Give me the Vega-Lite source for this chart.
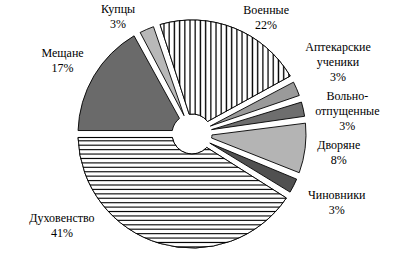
{
  "$schema": "https://vega.github.io/schema/vega-lite/v6.json",
  "autosize": "none",
  "width": 384,
  "height": 260,
  "padding": {"left": 0, "top": 4, "right": 16, "bottom": 0},
  "background": "white",
  "config": {"view": {"stroke": null}, "text": {"font": "'Liberation Serif', 'DejaVu Serif', serif", "fontSize": 12, "lineBreak": "\n", "lineHeight": 15, "align": "center", "baseline": "middle", "color": "black"}},
  "data": {"values": [
    {"category": "Военные", "label": "Военные\n22%", "value": 22, "order": 1},
    {"category": "Аптекарские ученики", "label": "Аптекарские\nученики\n3%", "value": 3, "order": 2},
    {"category": "Вольноотпущенные", "label": "Вольно-\nотпущенные\n3%", "value": 3, "order": 3},
    {"category": "Дворяне", "label": "Дворяне\n8%", "value": 8, "order": 4},
    {"category": "Чиновники", "label": "Чиновники\n3%", "value": 3, "order": 5},
    {"category": "Духовенство", "label": "Духовенство\n41%", "value": 41, "order": 6},
    {"category": "Мещане", "label": "Мещане\n17%", "value": 17, "order": 7},
    {"category": "Купцы", "label": "Купцы\n3%", "value": 3, "order": 8}
  ]},
  "transform": [
    {"stack": "value", "groupby": [], "sort": [{"field": "order", "order": "ascending"}], "as": ["v0", "v1"]}
  ],
  "layer": [
    {
      "mark": {"type": "arc", "outerRadius": 114, "innerRadius": 20, "padAngle": 0.06, "stroke": "black", "strokeWidth": 0.9},
      "encoding": {
        "theta": {"field": "v0", "type": "quantitative", "scale": {"type": "linear", "domain": [0, 100], "range": [-0.3142, 5.969]}},
        "theta2": {"field": "v1"},
        "fill": {"field": "category", "type": "nominal", "legend": null,
          "scale": {"domain": ["Военные", "Аптекарские ученики", "Вольноотпущенные", "Дворяне", "Чиновники", "Духовенство", "Мещане", "Купцы"],
                    "range": ["#d0d0d0", "#9a9a9a", "#6e6e6e", "#b4b4b4", "#505050", "#d0d0d0", "#6a6a6a", "#b8b8b8"]}}
      }
    },
    {
      "transform": [{"filter": "datum.category === 'Военные'"}],
      "mark": {"type": "arc", "outerRadius": 114, "innerRadius": 20, "padAngle": 0.06, "stroke": "black", "strokeWidth": 0.9,
        "fill": {"gradient": "linear", "x1": 0, "y1": 0, "x2": 1, "y2": 0, "stops": [
          {"offset": 0, "color": "#fff"}, {"offset": 0.02, "color": "#fff"}, {"offset": 0.03, "color": "#000"},
          {"offset": 0.04, "color": "#fff"}, {"offset": 0.06, "color": "#fff"}, {"offset": 0.07, "color": "#000"},
          {"offset": 0.08, "color": "#fff"}, {"offset": 0.10, "color": "#fff"}, {"offset": 0.11, "color": "#000"},
          {"offset": 0.12, "color": "#fff"}, {"offset": 0.14, "color": "#fff"}, {"offset": 0.15, "color": "#000"},
          {"offset": 0.16, "color": "#fff"}, {"offset": 0.18, "color": "#fff"}, {"offset": 0.19, "color": "#000"},
          {"offset": 0.20, "color": "#fff"}, {"offset": 0.22, "color": "#fff"}, {"offset": 0.23, "color": "#000"},
          {"offset": 0.24, "color": "#fff"}, {"offset": 0.26, "color": "#fff"}, {"offset": 0.27, "color": "#000"},
          {"offset": 0.28, "color": "#fff"}, {"offset": 0.30, "color": "#fff"}, {"offset": 0.31, "color": "#000"},
          {"offset": 0.32, "color": "#fff"}, {"offset": 0.34, "color": "#fff"}, {"offset": 0.35, "color": "#000"},
          {"offset": 0.36, "color": "#fff"}, {"offset": 0.38, "color": "#fff"}, {"offset": 0.39, "color": "#000"},
          {"offset": 0.40, "color": "#fff"}, {"offset": 0.42, "color": "#fff"}, {"offset": 0.43, "color": "#000"},
          {"offset": 0.44, "color": "#fff"}, {"offset": 0.46, "color": "#fff"}, {"offset": 0.47, "color": "#000"},
          {"offset": 0.48, "color": "#fff"}, {"offset": 0.50, "color": "#fff"}, {"offset": 0.51, "color": "#000"},
          {"offset": 0.52, "color": "#fff"}, {"offset": 0.54, "color": "#fff"}, {"offset": 0.55, "color": "#000"},
          {"offset": 0.56, "color": "#fff"}, {"offset": 0.58, "color": "#fff"}, {"offset": 0.59, "color": "#000"},
          {"offset": 0.60, "color": "#fff"}, {"offset": 0.62, "color": "#fff"}, {"offset": 0.63, "color": "#000"},
          {"offset": 0.64, "color": "#fff"}, {"offset": 0.66, "color": "#fff"}, {"offset": 0.67, "color": "#000"},
          {"offset": 0.68, "color": "#fff"}, {"offset": 0.70, "color": "#fff"}, {"offset": 0.71, "color": "#000"},
          {"offset": 0.72, "color": "#fff"}, {"offset": 0.74, "color": "#fff"}, {"offset": 0.75, "color": "#000"},
          {"offset": 0.76, "color": "#fff"}, {"offset": 0.78, "color": "#fff"}, {"offset": 0.79, "color": "#000"},
          {"offset": 0.80, "color": "#fff"}, {"offset": 0.82, "color": "#fff"}, {"offset": 0.83, "color": "#000"},
          {"offset": 0.84, "color": "#fff"}, {"offset": 0.86, "color": "#fff"}, {"offset": 0.87, "color": "#000"},
          {"offset": 0.88, "color": "#fff"}, {"offset": 0.90, "color": "#fff"}, {"offset": 0.91, "color": "#000"},
          {"offset": 0.92, "color": "#fff"}, {"offset": 0.94, "color": "#fff"}, {"offset": 0.95, "color": "#000"},
          {"offset": 0.96, "color": "#fff"}, {"offset": 0.98, "color": "#fff"}, {"offset": 0.99, "color": "#000"},
          {"offset": 1, "color": "#fff"}
        ]}},
      "encoding": {
        "theta": {"field": "v0", "type": "quantitative", "scale": {"type": "linear", "domain": [0, 100], "range": [-0.3142, 5.969]}},
        "theta2": {"field": "v1"}
      }
    },
    {
      "transform": [{"filter": "datum.category === 'Духовенство'"}],
      "mark": {"type": "arc", "outerRadius": 114, "innerRadius": 20, "padAngle": 0.06, "stroke": "black", "strokeWidth": 0.9,
        "fill": {"gradient": "linear", "x1": 0, "y1": 0, "x2": 0, "y2": 1, "stops": [
          {"offset": 0, "color": "#000"}, {"offset": 0.01, "color": "#fff"}, {"offset": 0.02, "color": "#fff"}, {"offset": 0.03, "color": "#000"},
          {"offset": 0.04, "color": "#fff"}, {"offset": 0.06, "color": "#fff"}, {"offset": 0.07, "color": "#000"},
          {"offset": 0.08, "color": "#fff"}, {"offset": 0.10, "color": "#fff"}, {"offset": 0.11, "color": "#000"},
          {"offset": 0.12, "color": "#fff"}, {"offset": 0.14, "color": "#fff"}, {"offset": 0.15, "color": "#000"},
          {"offset": 0.16, "color": "#fff"}, {"offset": 0.18, "color": "#fff"}, {"offset": 0.19, "color": "#000"},
          {"offset": 0.20, "color": "#fff"}, {"offset": 0.22, "color": "#fff"}, {"offset": 0.23, "color": "#000"},
          {"offset": 0.24, "color": "#fff"}, {"offset": 0.26, "color": "#fff"}, {"offset": 0.27, "color": "#000"},
          {"offset": 0.28, "color": "#fff"}, {"offset": 0.30, "color": "#fff"}, {"offset": 0.31, "color": "#000"},
          {"offset": 0.32, "color": "#fff"}, {"offset": 0.34, "color": "#fff"}, {"offset": 0.35, "color": "#000"},
          {"offset": 0.36, "color": "#fff"}, {"offset": 0.38, "color": "#fff"}, {"offset": 0.39, "color": "#000"},
          {"offset": 0.40, "color": "#fff"}, {"offset": 0.42, "color": "#fff"}, {"offset": 0.43, "color": "#000"},
          {"offset": 0.44, "color": "#fff"}, {"offset": 0.46, "color": "#fff"}, {"offset": 0.47, "color": "#000"},
          {"offset": 0.48, "color": "#fff"}, {"offset": 0.50, "color": "#fff"}, {"offset": 0.51, "color": "#000"},
          {"offset": 0.52, "color": "#fff"}, {"offset": 0.54, "color": "#fff"}, {"offset": 0.55, "color": "#000"},
          {"offset": 0.56, "color": "#fff"}, {"offset": 0.58, "color": "#fff"}, {"offset": 0.59, "color": "#000"},
          {"offset": 0.60, "color": "#fff"}, {"offset": 0.62, "color": "#fff"}, {"offset": 0.63, "color": "#000"},
          {"offset": 0.64, "color": "#fff"}, {"offset": 0.66, "color": "#fff"}, {"offset": 0.67, "color": "#000"},
          {"offset": 0.68, "color": "#fff"}, {"offset": 0.70, "color": "#fff"}, {"offset": 0.71, "color": "#000"},
          {"offset": 0.72, "color": "#fff"}, {"offset": 0.74, "color": "#fff"}, {"offset": 0.75, "color": "#000"},
          {"offset": 0.76, "color": "#fff"}, {"offset": 0.78, "color": "#fff"}, {"offset": 0.79, "color": "#000"},
          {"offset": 0.80, "color": "#fff"}, {"offset": 0.82, "color": "#fff"}, {"offset": 0.83, "color": "#000"},
          {"offset": 0.84, "color": "#fff"}, {"offset": 0.86, "color": "#fff"}, {"offset": 0.87, "color": "#000"},
          {"offset": 0.88, "color": "#fff"}, {"offset": 0.90, "color": "#fff"}, {"offset": 0.91, "color": "#000"},
          {"offset": 0.92, "color": "#fff"}, {"offset": 0.94, "color": "#fff"}, {"offset": 0.95, "color": "#000"},
          {"offset": 0.96, "color": "#fff"}, {"offset": 0.98, "color": "#fff"}, {"offset": 0.99, "color": "#000"},
          {"offset": 1, "color": "#fff"}
        ]}},
      "encoding": {
        "theta": {"field": "v0", "type": "quantitative", "scale": {"type": "linear", "domain": [0, 100], "range": [-0.3142, 5.969]}},
        "theta2": {"field": "v1"}
      }
    },
    {
      "mark": {"type": "text", "radius": 138, "thetaOffset": 0.19, "dy": -7.5},
      "encoding": {
        "theta": {"field": "value", "type": "quantitative", "stack": true, "scale": {"type": "linear", "domain": [0, 100], "range": [-0.3142, 5.969]}},
        "order": {"field": "order", "type": "quantitative"},
        "text": {"condition": {"test": "datum.category === 'Военные'", "field": "label"}, "value": ""}
      }
    },
    {
      "mark": {"type": "text", "radius": 163, "thetaOffset": -0.052, "dy": -15},
      "encoding": {
        "theta": {"field": "value", "type": "quantitative", "stack": true, "scale": {"type": "linear", "domain": [0, 100], "range": [-0.3142, 5.969]}},
        "order": {"field": "order", "type": "quantitative"},
        "text": {"condition": {"test": "datum.category === 'Аптекарские ученики'", "field": "label"}, "value": ""}
      }
    },
    {
      "mark": {"type": "text", "radius": 157, "thetaOffset": 0.073, "dy": -15},
      "encoding": {
        "theta": {"field": "value", "type": "quantitative", "stack": true, "scale": {"type": "linear", "domain": [0, 100], "range": [-0.3142, 5.969]}},
        "order": {"field": "order", "type": "quantitative"},
        "text": {"condition": {"test": "datum.category === 'Вольноотпущенные'", "field": "label"}, "value": ""}
      }
    },
    {
      "mark": {"type": "text", "radius": 148, "thetaOffset": 0, "dy": -7.5},
      "encoding": {
        "theta": {"field": "value", "type": "quantitative", "stack": true, "scale": {"type": "linear", "domain": [0, 100], "range": [-0.3142, 5.969]}},
        "order": {"field": "order", "type": "quantitative"},
        "text": {"condition": {"test": "datum.category === 'Дворяне'", "field": "label"}, "value": ""}
      }
    },
    {
      "mark": {"type": "text", "radius": 160, "thetaOffset": -0.03, "dy": -7.5},
      "encoding": {
        "theta": {"field": "value", "type": "quantitative", "stack": true, "scale": {"type": "linear", "domain": [0, 100], "range": [-0.3142, 5.969]}},
        "order": {"field": "order", "type": "quantitative"},
        "text": {"condition": {"test": "datum.category === 'Чиновники'", "field": "label"}, "value": ""}
      }
    },
    {
      "mark": {"type": "text", "radius": 159, "thetaOffset": 0.675, "dy": -7.5},
      "encoding": {
        "theta": {"field": "value", "type": "quantitative", "stack": true, "scale": {"type": "linear", "domain": [0, 100], "range": [-0.3142, 5.969]}},
        "order": {"field": "order", "type": "quantitative"},
        "text": {"condition": {"test": "datum.category === 'Духовенство'", "field": "label"}, "value": ""}
      }
    },
    {
      "mark": {"type": "text", "radius": 149, "thetaOffset": -0.016, "dy": -7.5},
      "encoding": {
        "theta": {"field": "value", "type": "quantitative", "stack": true, "scale": {"type": "linear", "domain": [0, 100], "range": [-0.3142, 5.969]}},
        "order": {"field": "order", "type": "quantitative"},
        "text": {"condition": {"test": "datum.category === 'Мещане'", "field": "label"}, "value": ""}
      }
    },
    {
      "mark": {"type": "text", "radius": 139, "thetaOffset": -0.152, "dy": -7.5},
      "encoding": {
        "theta": {"field": "value", "type": "quantitative", "stack": true, "scale": {"type": "linear", "domain": [0, 100], "range": [-0.3142, 5.969]}},
        "order": {"field": "order", "type": "quantitative"},
        "text": {"condition": {"test": "datum.category === 'Купцы'", "field": "label"}, "value": ""}
      }
    }
  ]
}
